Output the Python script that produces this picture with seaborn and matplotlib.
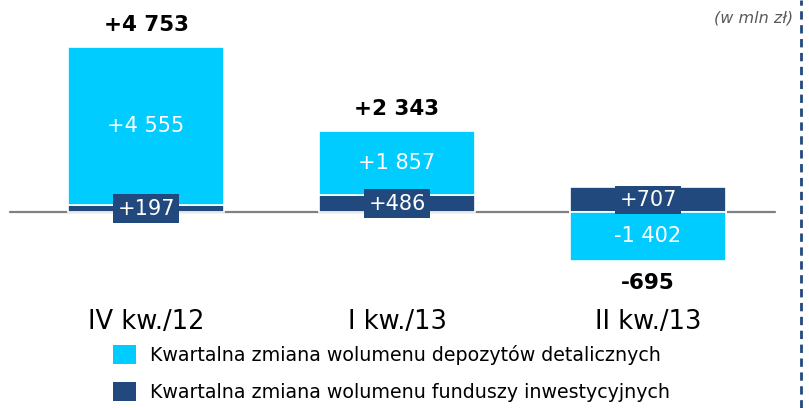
import matplotlib
matplotlib.use("Agg")
import matplotlib.pyplot as plt
from matplotlib import font_manager as fm
import seaborn as sns
import pandas as pd

# ---- data ----
categories = ["IV kw./12", "I kw./13", "II kw./13"]
funds = [197, 486, 707]           # Kwartalna zmiana wolumenu funduszy inwestycyjnych
deposits = [4555, 1857, -1402]    # Kwartalna zmiana wolumenu depozytów detalicznych
totals = [4753, 2343, -695]
legend_labels = ["Kwartalna zmiana wolumenu depozytów detalicznych",
                 "Kwartalna zmiana wolumenu funduszy inwestycyjnych"]
unit_label = "(w mln zł)"

LIGHT = "#00CCFF"
DARK = "#21497D"
GREY_LINE = "#808080"

sns.set_theme(style="white")
plt.rcParams["font.family"] = ["DejaVu Sans"]

names = {f.name for f in fm.fontManager.ttflist}
COND = "DejaVu Sans Condensed" if "DejaVu Sans Condensed" in names else "DejaVu Sans"
cond_scale = 1.1 if COND != "DejaVu Sans" else 1.0

W, H = 809, 408
fig = plt.figure(figsize=(W / 100, H / 100), dpi=100)
ax = fig.add_axes([0, 0, 1, 1])

df = pd.DataFrame({"cat": categories, "funds": funds, "deposits": deposits})
dep_bottom = [f if d >= 0 else 0 for f, d in zip(funds, deposits)]

sns.barplot(data=df, x="cat", y="funds", color=DARK, saturation=1, width=0.62,
            errorbar=None, edgecolor="white", linewidth=1.2, ax=ax,
            label=legend_labels[1], zorder=2)
sns.barplot(data=df, x="cat", y="deposits", color=LIGHT, saturation=1, width=0.62,
            errorbar=None, edgecolor="white", linewidth=1.2, ax=ax,
            bottom=dep_bottom, label=legend_labels[0], zorder=2)

handles, labels = ax.get_legend_handles_labels()
if ax.get_legend() is not None:
    ax.get_legend().remove()

# axis mapping (pixel-calibrated)
x0_px, dx_px = 146, 251
ax.set_xlim(-x0_px / dx_px, (W - x0_px) / dx_px)
zero_px = 212
upp = 28.8  # units per pixel
ax.set_ylim(-(H - zero_px) * upp, zero_px * upp)
ax.axis("off")

# zero line
ax.axhline(0, xmin=10 / W, xmax=775 / W, color=GREY_LINE, lw=1.6, zorder=1)


def fmt(v):
    s = f"{abs(v):,}".replace(",", " ")
    return ("+" if v > 0 else "-") + s


for i, (f, d, b, t) in enumerate(zip(funds, deposits, dep_bottom, totals)):
    # deposit labels
    ax.text(i, b + d / 2, fmt(d), ha="center", va="center", color="white",
            fontsize=15 * cond_scale, family=COND, zorder=4)
    # fund labels in boxes
    ax.text(i, f / 2, fmt(f), ha="center", va="center", color="white",
            fontsize=15 * cond_scale, family=COND, zorder=5,
            bbox=dict(boxstyle="square,pad=0.2", fc=DARK, ec="none"))
    # totals
    top = max(f, b + d)
    bottom = min(0, b + d)
    ty = top + 22 * upp if t >= 0 else bottom - 22 * upp
    ax.text(i, ty, fmt(t), ha="center", va="center",
            fontsize=15.5 * cond_scale, family=COND, fontweight="bold",
            color="black", zorder=4)
    # category labels
    fig.text((x0_px + dx_px * i) / W, 1 - 322 / H, categories[i], ha="center",
             va="center", fontsize=18.5 * cond_scale, family=COND, color="black")

# unit label
fig.text(793 / W, 1 - 18 / H, unit_label, ha="right", va="center",
         fontsize=11.5, style="italic", color="#595959")

# dashed vertical line
fig.add_artist(plt.Line2D([801 / W, 801 / W], [0, 1], transform=fig.transFigure,
                          color=DARK, lw=2, ls=(0, (3, 2))))

# legend
order = [labels.index(legend_labels[0]), labels.index(legend_labels[1])]
leg = fig.legend([handles[k] for k in order], [labels[k] for k in order],
                 loc="upper left", bbox_to_anchor=(113 / W, 1 - 345 / H),
                 frameon=False, fontsize=13.7, handlelength=1.22, handleheight=1.12,
                 handletextpad=0.7, labelspacing=0.9, borderpad=0, borderaxespad=0,
                 labelcolor="black")
for h in leg.legend_handles:
    h.set_edgecolor("none")

fig.savefig("out.png", dpi=100)
